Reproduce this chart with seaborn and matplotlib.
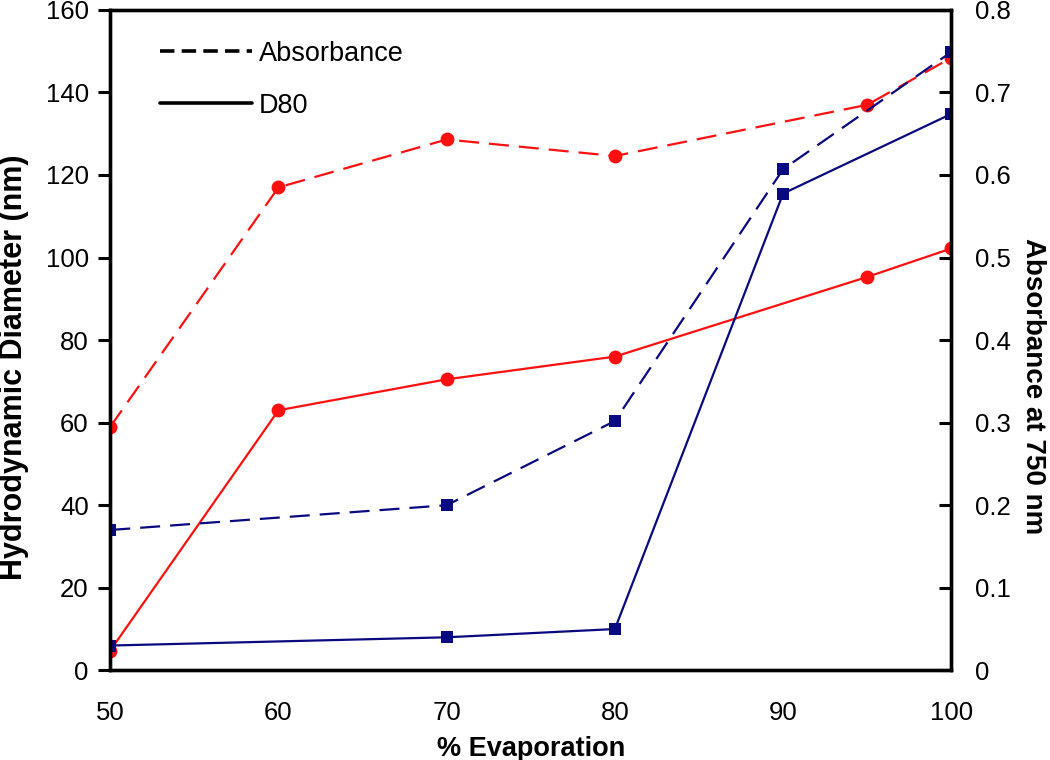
import matplotlib
matplotlib.use("Agg")
import matplotlib.pyplot as plt
from matplotlib.lines import Line2D
import seaborn as sns

# data
red_x = [50, 60, 70, 80, 95, 100]
red_d80 = [4.8, 63, 70.5, 76, 95.3, 102.2]
red_abs = [0.295, 0.585, 0.643, 0.623, 0.685, 0.742]

blue_x = [50, 70, 80, 90, 100]
blue_d80 = [6, 8, 10, 115.5, 134.8]
blue_abs = [0.17, 0.20, 0.302, 0.607, 0.749]

left_ticks = [0, 20, 40, 60, 80, 100, 120, 140, 160]
right_ticks = [0, 0.1, 0.2, 0.3, 0.4, 0.5, 0.6, 0.7, 0.8]
x_ticks = [50, 60, 70, 80, 90, 100]

sns.set_style("white")
plt.rcParams.update({
    "font.family": ["Liberation Sans", "DejaVu Sans"],
    "font.size": 18,
    "text.color": "black",
    "axes.labelcolor": "black",
    "xtick.color": "black",
    "ytick.color": "black",
})

RED = "#ff1010"
BLUE = "#0a0a80"
dash = (0, (9, 4.5))

fig, ax = plt.subplots(figsize=(10.5, 7.6), dpi=100)
fig.subplots_adjust(left=0.105, right=0.906, top=0.987, bottom=0.118)
ax2 = ax.twinx()

sns.lineplot(x=red_x, y=red_d80, ax=ax, color=RED, marker="o", markersize=10,
             markeredgewidth=0, linewidth=1.6)
sns.lineplot(x=blue_x, y=blue_d80, ax=ax, color=BLUE, marker="s", markersize=9,
             markeredgewidth=0, linewidth=1.6)
sns.lineplot(x=red_x, y=red_abs, ax=ax2, color=RED, marker="o", markersize=10,
             markeredgewidth=0, linewidth=1.6, linestyle=dash)
sns.lineplot(x=blue_x, y=blue_abs, ax=ax2, color=BLUE, marker="s", markersize=9,
             markeredgewidth=0, linewidth=1.6, linestyle=dash)

ax.set_xlim(50, 100)
ax.set_ylim(0, 160)
ax2.set_ylim(0, 0.8)
ax.set_xticks(x_ticks)
ax.set_yticks(left_ticks)
ax2.set_yticks(right_ticks)
ax2.set_yticklabels([("0" if t == 0 else f"{t:g}") for t in right_ticks])

for a in (ax, ax2):
    for s in a.spines.values():
        s.set_linewidth(2.4)
        s.set_color("black")
        s.set_visible(True)

ax.tick_params(axis="x", direction="in", length=8.5, width=2.2, pad=22, labelsize=18.5)
ax.tick_params(axis="y", direction="out", length=8.5, width=2.2, pad=7, labelsize=18.5, left=True)
ax2.tick_params(axis="y", direction="in", length=8.5, width=2.2, pad=17, labelsize=18.5, right=True)

ax.set_xlabel("% Evaporation", fontweight="bold", fontsize=19.5, labelpad=8)
ax.set_ylabel("Hydrodynamic Diameter (nm)", fontweight="bold", fontsize=22, labelpad=12)
ax2.set_ylabel("Absorbance at 750 nm", fontweight="bold", fontsize=20, rotation=-90, labelpad=25)
ax.yaxis.label.set_y(0.459)
ax2.yaxis.label.set_y(0.43)

handles = [Line2D([], [], color="black", linewidth=2.6, linestyle=(0, (4, 2))),
           Line2D([], [], color="black", linewidth=2.6)]
ax.legend(handles, ["Absorbance", "D80"], loc="upper left", frameon=False,
          bbox_to_anchor=(0.03, 0.99), handlelength=3.4, handletextpad=0.25,
          labelspacing=0.95, fontsize=19.5)

fig.savefig("out.png", dpi=100)
